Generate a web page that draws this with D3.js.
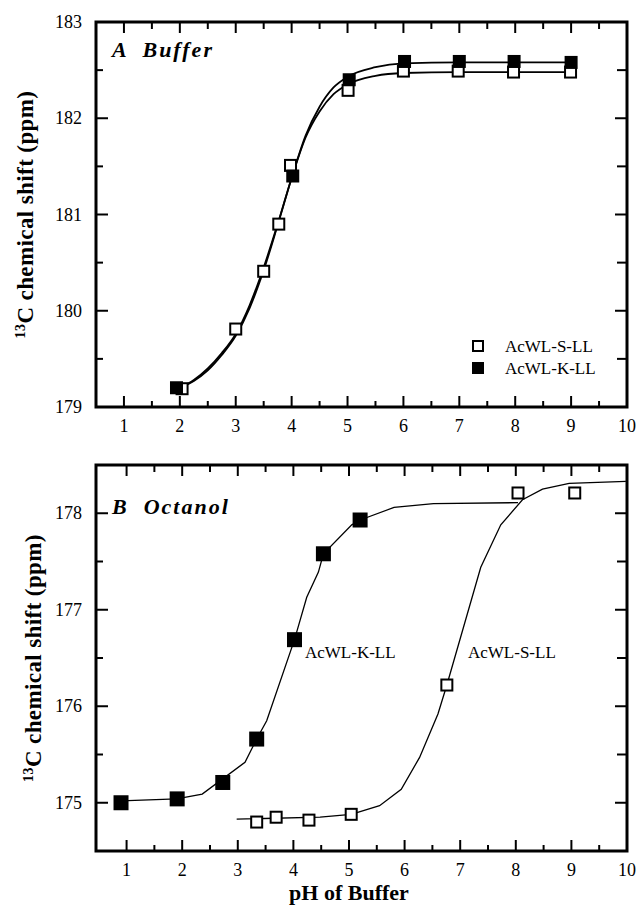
<!DOCTYPE html>
<html>
<head>
<meta charset="utf-8">
<script src="https://cdn.jsdelivr.net/npm/d3@7"></script>
<style>
  body { margin: 0; background: #fff; }
  svg text { font-family: "Liberation Serif", "Times New Roman", serif; fill: #000; }
</style>
</head>
<body>
<svg id="chart" width="639" height="907"></svg>
<script>
// ---- data ----
const phTicks = [1, 2, 3, 4, 5, 6, 7, 8, 9, 10];
const bufTicks = [179, 180, 181, 182, 183];
const octTicks = [175, 176, 177, 178];

// A: buffer
const bufS_ph = [2.04, 3.0, 3.5, 3.77, 3.98, 5.01, 6.0, 6.98, 7.97, 8.99];
const bufS_shift = [179.19, 179.81, 180.41, 180.9, 181.51, 182.29, 182.49, 182.49, 182.48, 182.48];
const bufK_ph = [1.94, 4.02, 5.03, 6.02, 7.0, 7.98, 9.0];
const bufK_shift = [179.2, 181.4, 182.4, 182.59, 182.59, 182.59, 182.58];

const bufS_fitPh = [2.0, 2.25, 2.5, 2.75, 3.0, 3.25, 3.5, 3.75, 4.0, 4.25, 4.5, 4.75, 5.0, 5.5, 6.0, 7.0, 9.0];
const bufS_fitShift = [179.2, 179.28, 179.4, 179.56, 179.76, 180.06, 180.45, 180.9, 181.38, 181.8, 182.07, 182.25, 182.35, 182.44, 182.47, 182.48, 182.48];
const bufK_fitPh = [2.0, 2.25, 2.5, 2.75, 3.0, 3.25, 3.5, 3.75, 4.0, 4.25, 4.5, 4.75, 5.0, 5.5, 6.0, 7.0, 9.0];
const bufK_fitShift = [179.2, 179.27, 179.38, 179.54, 179.74, 180.03, 180.42, 180.89, 181.38, 181.82, 182.12, 182.32, 182.43, 182.53, 182.57, 182.58, 182.58];

// B: octanol
const octK_ph = [0.9, 1.91, 2.73, 3.34, 4.02, 4.54, 5.2];
const octK_shift = [175.0, 175.04, 175.21, 175.66, 176.69, 177.58, 177.93];
const octS_ph = [3.34, 3.69, 4.28, 5.04, 6.76, 8.04, 9.06];
const octS_shift = [174.8, 174.85, 174.82, 174.88, 176.22, 178.21, 178.21];

const octK_fitPh = [0.9, 1.9, 2.36, 3.13, 3.34, 3.52, 4.02, 4.24, 4.45, 4.54, 5.05, 5.2, 5.81, 6.52, 8.04];
const octK_fitShift = [175.02, 175.04, 175.09, 175.42, 175.66, 175.85, 176.69, 177.13, 177.39, 177.58, 177.88, 177.93, 178.06, 178.1, 178.11];
const octS_fitPh = [2.98, 4.48, 5.04, 5.55, 5.94, 6.27, 6.6, 6.76, 7.37, 7.73, 8.12, 8.48, 8.96, 9.98];
const octS_fitShift = [174.83, 174.85, 174.88, 174.97, 175.14, 175.47, 175.92, 176.22, 177.44, 177.88, 178.14, 178.25, 178.31, 178.33];

const seriesNames = ["AcWL-S-LL", "AcWL-K-LL"];

const svg = d3.select("#chart");

function zip(xs, ys) {
    return xs.map((v, i) => [v, ys[i]]);
}

function drawPanel(opt) {
    const x = d3.scaleLinear().domain(opt.xDomain).range([96, 627]);
    const y = d3.scaleLinear().domain(opt.yDomain).range([opt.bottom, opt.top]);
    const g = svg.append("g");

    const xMajor = phTicks.filter(v => v < 10);
    const xMinor = d3.range(1.5, 10, 1);
    const yMajor = opt.yTicks.filter(v => v > opt.yDomain[0] && v < opt.yDomain[1]);
    const yMinor = d3.range(Math.ceil(opt.yDomain[0]) + 0.5, opt.yDomain[1], 1);

    // ticks (inward, all four sides)
    const tk = g.append("g").attr("stroke", "#000").attr("stroke-width", 2);
    xMajor.forEach(v => {
        tk.append("line").attr("x1", x(v)).attr("x2", x(v)).attr("y1", opt.bottom).attr("y2", opt.bottom - 11);
        tk.append("line").attr("x1", x(v)).attr("x2", x(v)).attr("y1", opt.top).attr("y2", opt.top + 11);
    });
    xMinor.forEach(v => {
        tk.append("line").attr("x1", x(v)).attr("x2", x(v)).attr("y1", opt.bottom).attr("y2", opt.bottom - 6);
        tk.append("line").attr("x1", x(v)).attr("x2", x(v)).attr("y1", opt.top).attr("y2", opt.top + 7);
    });
    yMajor.forEach(v => {
        tk.append("line").attr("x1", 96).attr("x2", 108).attr("y1", y(v)).attr("y2", y(v));
        tk.append("line").attr("x1", 627).attr("x2", 615).attr("y1", y(v)).attr("y2", y(v));
    });
    yMinor.forEach(v => {
        tk.append("line").attr("x1", 96).attr("x2", 103).attr("y1", y(v)).attr("y2", y(v));
        tk.append("line").attr("x1", 627).attr("x2", 617).attr("y1", y(v)).attr("y2", y(v));
    });

    // frame
    g.append("rect")
        .attr("x", 96).attr("y", opt.top)
        .attr("width", 531).attr("height", opt.bottom - opt.top)
        .attr("fill", "none").attr("stroke", "#000").attr("stroke-width", 3);

    // tick labels
    g.selectAll(".xl").data(phTicks).enter().append("text")
        .attr("x", d => x(d)).attr("y", opt.bottom + 25)
        .attr("text-anchor", "middle").style("font-size", "18px")
        .text(d => d);
    g.selectAll(".yl").data(opt.yTicks).enter().append("text")
        .attr("x", 82).attr("y", d => y(d) + 6)
        .attr("text-anchor", "end").style("font-size", "18px")
        .text(d => d);

    // y axis title
    const yt = g.append("text")
        .attr("transform", `translate(${opt.ylabX},${(opt.top + opt.bottom) / 2}) rotate(-90)`)
        .attr("text-anchor", "middle")
        .style("font-size", "23px").style("font-weight", "bold").style("letter-spacing", "0.4px");
    yt.append("tspan").attr("dy", -8).style("font-size", "14px").text("13");
    yt.append("tspan").attr("dy", 8).text("C chemical shift (ppm)");

    // panel title
    g.append("text")
        .attr("x", 112).attr("y", opt.titleY)
        .style("font-size", "22px").style("font-weight", "bold").style("font-style", "italic")
        .style("letter-spacing", "2px").attr("xml:space", "preserve")
        .text(opt.title);

    // fit curves
    const line = d3.line().x(d => x(d[0])).y(d => y(d[1])).curve(opt.curve);
    opt.fits.forEach(f => {
        g.append("path").datum(f)
            .attr("d", line)
            .attr("fill", "none").attr("stroke", "#000").attr("stroke-width", opt.lw);
    });

    // markers
    opt.points.forEach(p => {
        const s = p.size;
        g.selectAll(null).data(p.data).enter().append("rect")
            .attr("x", d => x(d[0]) - s / 2).attr("y", d => y(d[1]) - s / 2)
            .attr("width", s).attr("height", s)
            .attr("fill", p.filled ? "#000" : "#fff")
            .attr("stroke", "#000").attr("stroke-width", 2);
    });

    return { x, y, g };
}

// Panel A
const pa = drawPanel({
    xDomain: [0.5, 10], yDomain: [179, 183], top: 22, bottom: 407,
    yTicks: bufTicks, ylabX: 33, title: "A  Buffer", titleY: 57,
    curve: d3.curveMonotoneX, lw: 1.8,
    fits: [zip(bufS_fitPh, bufS_fitShift), zip(bufK_fitPh, bufK_fitShift)],
    points: [
        { data: zip(bufS_ph, bufS_shift), filled: false, size: 11 },
        { data: zip(bufK_ph, bufK_shift), filled: true, size: 11 }
    ]
});

// legend
const leg = pa.g.append("g");
seriesNames.forEach((name, i) => {
    leg.append("rect")
        .attr("x", 473).attr("y", 341 + i * 22).attr("width", 10).attr("height", 10)
        .attr("fill", i === 0 ? "#fff" : "#000").attr("stroke", "#000").attr("stroke-width", 2);
    leg.append("text")
        .attr("x", 505).attr("y", 352 + i * 22)
        .style("font-size", "17px")
        .text(name);
});

// Panel B
const pb = drawPanel({
    xDomain: [0.45, 10], yDomain: [174.5, 178.5], top: 465, bottom: 851,
    yTicks: octTicks, ylabX: 41, title: "B  Octanol", titleY: 514,
    curve: d3.curveLinear, lw: 1.3,
    fits: [zip(octK_fitPh, octK_fitShift), zip(octS_fitPh, octS_fitShift)],
    points: [
        { data: zip(octK_ph, octK_shift), filled: true, size: 13 },
        { data: zip(octS_ph, octS_shift), filled: false, size: 11 }
    ]
});

pb.g.append("text").attr("x", 305).attr("y", 658).style("font-size", "17px").text(seriesNames[1]);
pb.g.append("text").attr("x", 468).attr("y", 658).style("font-size", "17px").text(seriesNames[0]);

// x axis title
svg.append("text")
    .attr("x", 349).attr("y", 900)
    .attr("text-anchor", "middle")
    .style("font-size", "22px").style("font-weight", "bold")
    .text("pH of Buffer");
</script>
</body>
</html>
